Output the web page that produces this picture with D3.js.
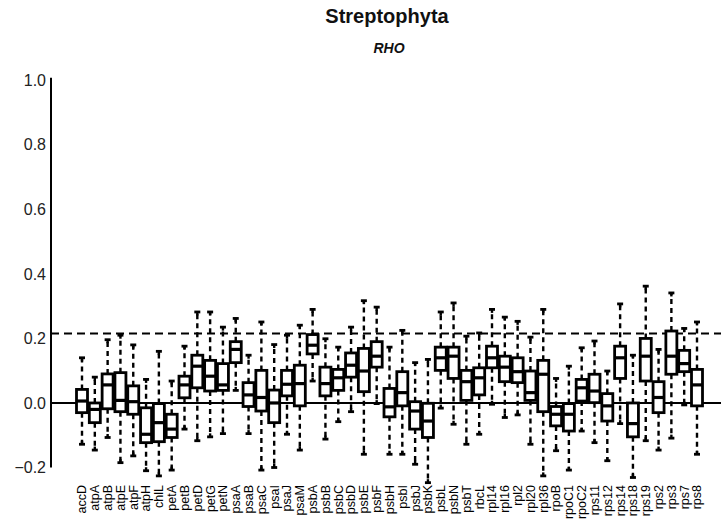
<!DOCTYPE html>
<html><head><meta charset="utf-8">
<script src="https://cdn.jsdelivr.net/npm/d3@7"></script>
<style>body{margin:0;background:#fff}svg{display:block}text{font-family:"Liberation Sans",Arial,sans-serif}</style>
</head><body><svg id="c" width="721" height="522"></svg>
<script>
const genes = ["accD","atpA","atpB","atpE","atpF","atpH","chlL","petA","petB","petD","petG","petN","psaA","psaB","psaC","psaI","psaJ","psaM","psbA","psbB","psbC","psbD","psbE","psbF","psbH","psbI","psbJ","psbK","psbL","psbN","psbT","rbcL","rpl14","rpl16","rpl2","rpl20","rpl36","rpoB","rpoC1","rpoC2","rps11","rps12","rps14","rps18","rps19","rps2","rps3","rps7","rps8"];
const whiskerLow = [-0.128,-0.146,-0.107,-0.185,-0.164,-0.21,-0.226,-0.208,-0.081,-0.117,-0.105,-0.095,0.039,-0.095,-0.208,-0.2,-0.097,-0.146,0.068,-0.112,-0.058,-0.027,-0.159,-0.002,-0.159,-0.159,-0.19,-0.247,-0.016,-0.066,-0.128,-0.097,-0.004,-0.045,-0.037,-0.128,-0.226,-0.148,-0.208,-0.087,-0.123,-0.179,-0.064,-0.231,-0.117,-0.146,-0.109,-0.006,-0.159];
const q1 = [-0.03,-0.061,-0.018,-0.027,-0.035,-0.123,-0.12,-0.107,0.016,0.047,0.037,0.039,0.125,-0.011,-0.025,-0.061,0.022,-0.009,0.152,0.022,0.039,0.08,0.035,0.111,-0.043,-0.009,-0.081,-0.107,0.101,0.076,0.008,0.025,0.109,0.066,0.063,0.008,-0.027,-0.071,-0.087,0.006,0.001,-0.056,0.076,-0.105,0.068,-0.03,0.089,0.097,-0.009];
const median = [0.006,-0.02,0.056,0.008,0.004,-0.097,-0.061,-0.081,0.056,0.114,0.083,0.056,0.166,0.025,0.017,0.0,0.058,0.06,0.179,0.06,0.078,0.117,0.099,0.145,-0.012,0.032,-0.025,-0.056,0.14,0.145,0.066,0.078,0.14,0.111,0.097,0.032,0.089,-0.035,-0.035,0.047,0.037,-0.009,0.14,-0.064,0.145,0.017,0.145,0.122,0.056];
const q3 = [0.042,0.0,0.09,0.094,0.053,-0.015,-0.002,-0.035,0.083,0.148,0.132,0.122,0.19,0.063,0.101,0.04,0.101,0.117,0.212,0.111,0.104,0.155,0.169,0.19,0.045,0.097,0.004,-0.001,0.173,0.173,0.101,0.109,0.176,0.145,0.14,0.099,0.132,-0.011,-0.002,0.073,0.089,0.029,0.176,0.0,0.2,0.066,0.223,0.163,0.104];
const whiskerHigh = [0.14,0.08,0.196,0.21,0.18,0.073,0.16,0.068,0.176,0.282,0.282,0.235,0.262,0.148,0.251,0.181,0.21,0.241,0.29,0.199,0.173,0.235,0.317,0.297,0.173,0.225,0.125,0.135,0.282,0.31,0.207,0.217,0.29,0.266,0.253,0.204,0.29,0.076,0.114,0.171,0.192,0.099,0.307,0.148,0.362,0.166,0.341,0.231,0.251];
const yTicks = [-0.2,0.0,0.2,0.4,0.6,0.8,1.0];
const refLine = 0.215;
const title = "Streptophyta", subtitle = "RHO";

const svg = d3.select("#c");
const W = 721;
const axisX = 51;
const x = d3.scalePoint().domain(genes).range([82, 697]);
const y = d3.scaleLinear().domain([-0.2, 1.0]).range([467.5, 80.3]);
const boxW = 11;

svg.append("text").attr("x", 387).attr("y", 23).attr("text-anchor","middle")
  .attr("font-size", 20).attr("font-weight","bold").attr("fill","#111").text(title);
svg.append("text").attr("x", 389).attr("y", 53).attr("text-anchor","middle")
  .attr("font-size", 14).attr("font-weight","bold").attr("font-style","italic").attr("fill","#111").text(subtitle);

// y axis
const yAxis = d3.axisLeft(y).tickValues(yTicks).tickFormat(d3.format(".1f")).tickSize(0).tickPadding(5);
const ga = svg.append("g").attr("transform", `translate(${axisX},0)`).call(yAxis);
ga.select(".domain").attr("stroke","#000").attr("stroke-width",2).attr("d", `M0,${y(1.0)-2.5}V${y(-0.2)}`);
ga.selectAll(".tick text").attr("font-size", 16).attr("fill","#222")
  .attr("font-family",'"Liberation Sans",Arial,sans-serif').text(d => d < 0 ? "\u2212" + Math.abs(d).toFixed(1) : d.toFixed(1));

// reference lines
svg.append("line").attr("x1", axisX).attr("x2", W).attr("y1", y(refLine)).attr("y2", y(refLine))
  .attr("stroke","#000").attr("stroke-width",2).attr("stroke-dasharray","8,5");
svg.append("line").attr("x1", axisX).attr("x2", W).attr("y1", y(0)).attr("y2", y(0))
  .attr("stroke","#000").attr("stroke-width",2);

const data = genes.map((g,i)=>({g, lo:whiskerLow[i], q1:q1[i], med:median[i], q3:q3[i], hi:whiskerHigh[i]}));
const gb = svg.append("g").selectAll("g").data(data).join("g").attr("transform", d=>`translate(${x(d.g)},0)`);
// whiskers
gb.append("line").attr("y1", d=>y(d.q3)).attr("y2", d=>y(d.hi)).attr("stroke","#000").attr("stroke-width",2.4).attr("stroke-dasharray","5,4");
gb.append("line").attr("y1", d=>y(d.q1)).attr("y2", d=>y(d.lo)).attr("stroke","#000").attr("stroke-width",2.4).attr("stroke-dasharray","5,4");
// caps
gb.append("line").attr("x1",-3).attr("x2",3).attr("y1", d=>y(d.hi)).attr("y2", d=>y(d.hi)).attr("stroke","#000").attr("stroke-width",2.8);
gb.append("line").attr("x1",-3).attr("x2",3).attr("y1", d=>y(d.lo)).attr("y2", d=>y(d.lo)).attr("stroke","#000").attr("stroke-width",2.8);
gb.append("line").attr("x1",0).attr("x2",0).attr("y1", d=>y(d.hi)).attr("y2", d=>y(d.hi)+3.5).attr("stroke","#000").attr("stroke-width",2.4);
gb.append("line").attr("x1",0).attr("x2",0).attr("y1", d=>y(d.lo)).attr("y2", d=>y(d.lo)-3.5).attr("stroke","#000").attr("stroke-width",2.4);
// boxes
gb.append("rect").attr("x",-boxW/2).attr("width",boxW).attr("y", d=>y(d.q3)).attr("height", d=>y(d.q1)-y(d.q3))
  .attr("fill","#fff").attr("stroke","#000").attr("stroke-width",2.8);
gb.append("line").attr("x1",-boxW/2).attr("x2",boxW/2).attr("y1", d=>y(d.med)).attr("y2", d=>y(d.med)).attr("stroke","#000").attr("stroke-width",3.2);

// x labels
svg.append("g").selectAll("text").data(genes).join("text")
  .attr("transform", d=>`translate(${x(d)},485) rotate(-90)`)
  .attr("text-anchor","end").attr("dy","0.35em").attr("font-size",12.5).attr("fill","#000").text(d=>d);
</script></body></html>
